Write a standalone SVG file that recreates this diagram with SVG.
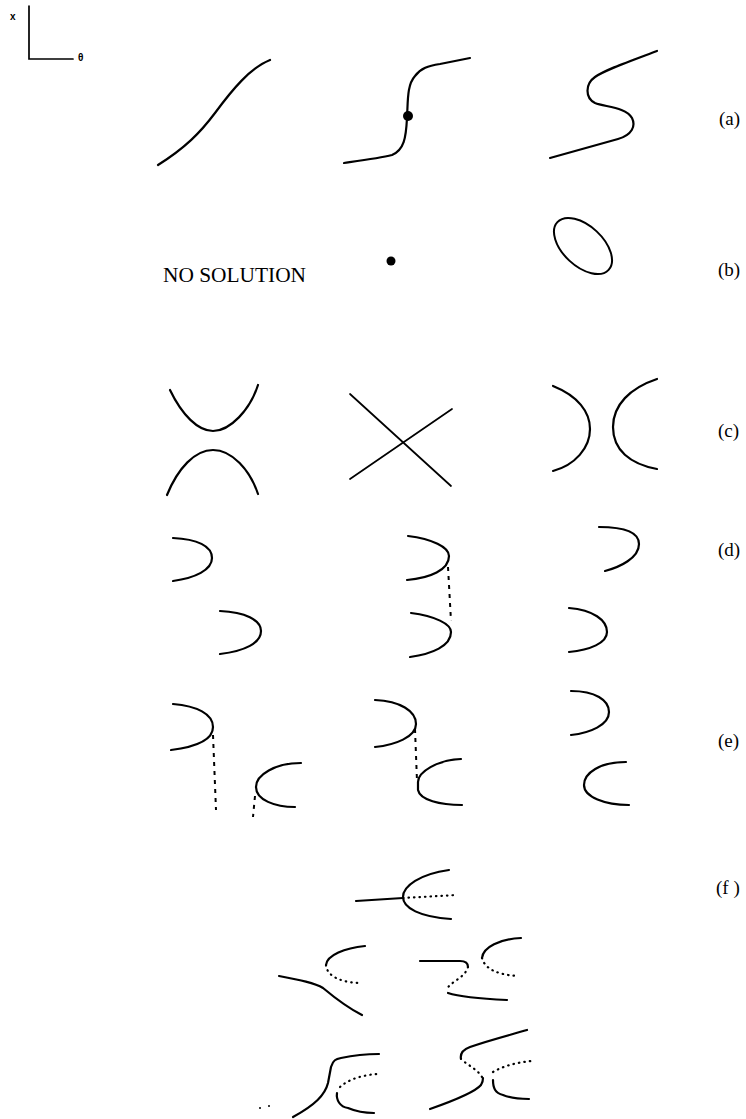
<svg xmlns="http://www.w3.org/2000/svg" width="746" height="1119" viewBox="0 0 746 1119">
<style>
.c{fill:none;stroke:#000;stroke-width:2.2;stroke-linecap:round;stroke-linejoin:round}
.t{fill:none;stroke:#000;stroke-width:1.7;stroke-linecap:round}
.d{fill:none;stroke:#000;stroke-width:2;stroke-dasharray:4 5;stroke-linecap:butt}
.o{fill:none;stroke:#000;stroke-width:2.2;stroke-dasharray:0.5 5;stroke-linecap:round}
.lab{font-family:"Liberation Serif","Times New Roman",serif;font-size:19px;fill:#000}
.ax{font-family:"Liberation Sans",Arial,sans-serif;font-size:10px;font-weight:bold;fill:#000}
</style>
<rect width="746" height="1119" fill="#fff"/>
<g id="axes">
<path class="t" d="M29,6 L29,59 L73,59"/>
<text class="ax" x="10" y="20">x</text>
<text class="ax" x="78" y="61">θ</text>
</g>
<g id="row-a">
<path class="c" d="M158,165 C185,148 200,133 215,113 C232,90 250,68 270,60"/>
<path class="c" d="M344,163 C365,160 380,158 392,155 C404,150 406,138 407,118 C408,100 407,85 415,76 C421,68 428,66 440,64 L470,58"/>
<circle cx="408" cy="116" r="5"/>
<path class="c" d="M550,158 L618,139 C632,135 636,126 632,118 C626,107 605,107 595,103 C585,98 585,84 595,77 C605,70 625,63 657,51"/>
<text class="lab" x="719" y="125">(a)</text>
</g>
<g id="row-b">
<text x="163" y="282" font-family="Liberation Serif, Times New Roman, serif" font-size="21" textLength="143" lengthAdjust="spacingAndGlyphs">NO SOLUTION</text>
<circle cx="391" cy="261" r="4.5"/>
<ellipse cx="583" cy="246" rx="35" ry="20" transform="rotate(43 583 246)" fill="none" stroke="#000" stroke-width="2"/>
<text class="lab" x="718" y="276">(b)</text>
</g>
<g id="row-c">
<path class="c" d="M170,390 C182,415 198,431 213,431 C230,431 250,410 258,385"/>
<path class="c" d="M167,495 C178,468 195,450 213,450 C232,450 250,470 258,494"/>
<path class="t" d="M350,394 L451,486 M350,479 L452,409"/>
<path class="c" d="M553,386 C578,396 590,412 590,429 C590,448 575,465 553,471"/>
<path class="c" d="M657,379 C630,388 613,405 613,427 C613,450 630,464 657,469"/>
<text class="lab" x="718" y="437">(c)</text>
</g>
<g id="row-d">
<path class="c" d="M173,538 C197,539 212,546 212,558 C212,570 195,578 173,581"/>
<path class="c" d="M220,611 C245,612 261,620 261,631 C261,643 245,651 220,654"/>
<path class="c" d="M408,536 C432,539 449,547 449,556 C449,570 430,578 407,580"/>
<path class="d" d="M448,567 L451,621" stroke-dasharray="3 6"/>
<path class="c" d="M411,613 C435,616 451,624 451,632 C451,646 432,654 410,657"/>
<path class="c" d="M599,527 C625,527 639,533 639,544 C639,558 620,567 605,571"/>
<path class="c" d="M569,608 C593,610 607,620 607,632 C607,643 590,650 569,652"/>
<text class="lab" x="718" y="556">(d)</text>
</g>
<g id="row-e">
<path class="c" d="M173,704 C197,706 213,714 213,727 C213,740 195,747 171,750"/>
<path class="d" d="M213,735 L216,810"/>
<path class="c" d="M301,763 C275,763 256,775 256,787 C256,800 275,807 295,807"/>
<path class="d" d="M255,796 L253,817"/>
<path class="c" d="M375,700 C400,701 416,711 416,724 C416,737 395,745 375,747"/>
<path class="d" d="M415,729 L417,781"/>
<path class="c" d="M461,759 C437,760 418,772 418,782 L418,790 C420,800 440,805 462,805"/>
<path class="c" d="M571,691 C595,691 609,700 609,712 C609,725 590,733 571,735"/>
<path class="c" d="M626,762 C600,762 584,773 584,785 C584,797 605,805 629,805"/>
<text class="lab" x="718" y="747">(e)</text>
</g>
<g id="row-f">
<path class="c" d="M356,901 L403,898"/>
<path class="o" d="M403,898 L457,895"/>
<path class="c" d="M449,870 C420,874 403,886 403,897 C403,908 420,917 451,919"/>
<path class="c" d="M279,976 C300,980 315,983 323,988 C335,998 348,1008 362,1015"/>
<path class="c" d="M365,946 C345,948 327,955 326,965"/>
<path class="o" d="M326,965 C327,978 345,983 362,983"/>
<path class="c" d="M420,961 L460,961 C466,961 468,964 468,967"/>
<path class="o" d="M468,967 C465,978 450,982 447,989"/>
<path class="c" d="M448,993 C460,997 485,999 507,1000"/>
<path class="c" d="M521,938 C500,939 483,947 482,958"/>
<path class="o" d="M482,958 C485,970 500,975 518,976"/>
<path class="c" d="M293,1117 C315,1105 325,1095 328,1083 L331,1067 C333,1060 336,1059 341,1058 C355,1055 370,1054 379,1054"/>
<path class="o" d="M340,1087 C350,1078 365,1075 377,1074"/>
<path class="c" d="M337,1093 C336,1100 340,1107 348,1108 C355,1111 365,1113 374,1113"/>
<circle cx="260" cy="1108" r="1"/>
<circle cx="269" cy="1106" r="1"/>
<path class="c" d="M430,1109 C450,1102 475,1092 481,1085 C483,1082 483,1080 483,1078"/>
<path class="o" d="M482,1077 C478,1070 468,1065 462,1060"/>
<path class="c" d="M461,1059 C460,1054 462,1050 470,1047 C490,1040 510,1035 527,1030"/>
<path class="o" d="M493,1072 C505,1065 520,1062 532,1061"/>
<path class="c" d="M493,1080 C493,1088 495,1093 503,1095 C510,1098 520,1099 529,1099"/>
<text class="lab" x="716" y="894">(f )</text>
</g>
</svg>
